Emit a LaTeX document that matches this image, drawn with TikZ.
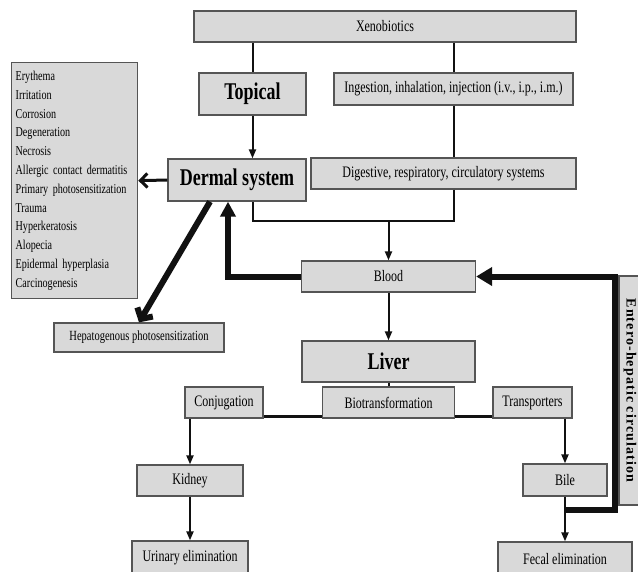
\documentclass[tikz,border=0pt]{standalone}
\usepackage{fontspec}
\setmainfont{Liberation Serif}[FakeStretch=0.75]
\newfontfamily\wideserif{Liberation Serif}[LetterSpace=8]
\usetikzlibrary{arrows.meta}
\definecolor{BoxFill}{HTML}{D9D9D9}
\definecolor{BoxLine}{HTML}{555555}
\definecolor{Ink}{HTML}{111111}

\begin{document}
\begin{tikzpicture}[x=1pt,y=-1pt,
  box/.style={draw=BoxLine,fill=BoxFill,line width=1.3pt,inner sep=0pt,font=\fontsize{16}{18}\selectfont},
  bigbox/.style={box,font=\fontsize{24}{26}\selectfont\bfseries},
  link/.style={Ink,line width=2pt},
  flow/.style={link,-{Triangle[length=9pt,width=7pt]}},
  heavy/.style={Ink,line width=6pt}]
  \useasboundingbox (0,0) rectangle (638,571);
  \foreach \n/\x/\y/\w/\h/\t in {
    xeno/385/26.5/382/31/Xenobiotics,
    ingest/453.5/89/239/32/{Ingestion, inhalation, injection (i.v., i.p., i.m.)},
    digest/443.5/173.5/265/31/{Digestive, respiratory, circulatory systems},
    blood/388.5/276.5/174/31/Blood,
    biotrans/388.5/402.5/132/31/Biotransformation,
    conj/224/402.5/78/31/Conjugation,
    transp/532.5/402.5/79/31/Transporters,
    kidney/190/480.5/106/31/Kidney,
    urinary/190/558/116/34/{Urinary elimination},
    bile/565/480/84/32/Bile,
    fecal/565/559/134/34/{Fecal elimination}}
    \node[box,minimum width=\w pt,minimum height=\h pt] (\n) at (\x,\y) {\t};
  \node[bigbox,minimum width=107pt,minimum height=42pt] (topical) at (252.5,94) {Topical};
  \node[bigbox,minimum width=138pt,minimum height=42pt] (dermal) at (237,180) {Dermal system};
  \node[bigbox,minimum width=173pt,minimum height=41pt] (liver) at (388.5,361.5) {Liver};
  \node[box,minimum width=170pt,minimum height=29pt,font=\fontsize{14}{16}\selectfont] (hepato) at (139,337.5) {Hepatogenous photosensitization};
  \node[box,anchor=north west,align=left,text width=118pt,minimum height=236pt,inner xsep=4pt,
    font=\fontsize{13.5}{18.8}\selectfont] (effects) at (11,62) {Erythema\\Irritation\\Corrosion\\Degeneration\\Necrosis\\Allergic contact dermatitis\\Primary photosensitization\\Trauma\\Hyperkeratosis\\Alopecia\\Epidermal hyperplasia\\Carcinogenesis};
  \node[box,rotate=-90,minimum width=229pt,minimum height=22pt,
    font=\fontsize{14}{16}\wideserif\bfseries] (entero) at (630,390.5) {Entero-hepatic circulation};
  \coordinate (merge) at (388.5,221);
  \coordinate (loop) at (615,510);
  \draw[link] (xeno.south -| topical) -- (topical.north);
  \draw[link] (xeno.south -| ingest) -- (ingest.north);
  \draw[flow] (topical.south) -- (topical |- dermal.north);
  \draw[link] (ingest.south) -- (ingest |- digest.north);
  \draw[link] (ingest |- digest.south) |- (merge) -| (topical |- dermal.south);
  \draw[flow] (merge) -- (blood.north);
  \draw[heavy,-{Triangle[length=15pt,width=15pt]}] (blood.west) -| ([xshift=-9pt]dermal.south);
  \draw[heavy,-{Straight Barb[length=8pt,width=18pt]}] ([xshift=-27pt]dermal.south) -- (hepato.north);
  \draw[Ink,line width=3pt,-{Straight Barb[length=7pt,width=14pt]}] (dermal.west) -- (effects.east);
  \draw[flow] (blood.south) -- (liver.north);
  \draw[link] (liver.south) -- (biotrans.north);
  \draw[Ink,line width=3pt] ([yshift=2pt]conj.south east) -- ([yshift=2pt]biotrans.south west);
  \draw[Ink,line width=3pt] ([yshift=2pt]biotrans.south east) -- ([yshift=2pt]transp.south west);
  \draw[flow] (kidney |- conj.south) -- (kidney.north);
  \draw[flow] (kidney.south) -- (urinary.north);
  \draw[flow] (bile |- transp.south) -- (bile.north);
  \draw[flow] (bile.south) -- (fecal.north);
  \draw[heavy,-{Triangle[length=16pt,width=18pt]}] (bile |- loop) -- (loop) |- (blood.east);
\end{tikzpicture}
\end{document}
